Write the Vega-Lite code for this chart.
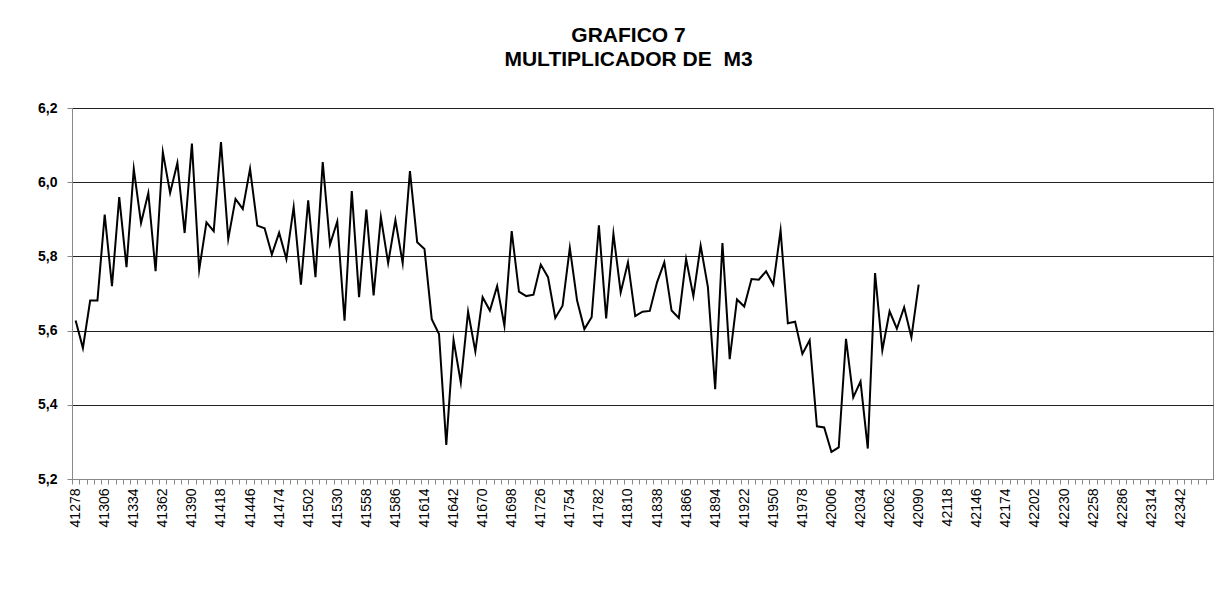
{
  "$schema": "https://vega.github.io/schema/vega-lite/v6.json",
  "width": 1141,
  "height": 371,
  "autosize": {"type": "none"},
  "padding": {"left": 72, "top": 108, "right": 3, "bottom": 127},
  "background": "white",
  "title": {
    "text": ["GRAFICO 7", "MULTIPLICADOR DE\u00a0 M3"],
    "font": "Liberation Sans",
    "fontSize": 21,
    "fontWeight": "bold",
    "color": "black",
    "anchor": "middle",
    "frame": "group",
    "dx": -14,
    "offset": 31,
    "lineHeight": 24
  },
  "config": {
    "view": {"stroke": "#888888", "strokeWidth": 1},
    "axis": {"labelFont": "Liberation Sans", "labelColor": "black", "domainColor": "#888888", "tickColor": "#888888"}
  },
  "data": {
    "values": [
      {"fecha": 41278, "valor": 5.627}, {"fecha": 41285, "valor": 5.553}, {"fecha": 41292, "valor": 5.681}, {"fecha": 41299, "valor": 5.681},
      {"fecha": 41306, "valor": 5.913}, {"fecha": 41313, "valor": 5.720}, {"fecha": 41320, "valor": 5.960}, {"fecha": 41327, "valor": 5.771},
      {"fecha": 41334, "valor": 6.036}, {"fecha": 41341, "valor": 5.890}, {"fecha": 41348, "valor": 5.971}, {"fecha": 41355, "valor": 5.760},
      {"fecha": 41362, "valor": 6.081}, {"fecha": 41369, "valor": 5.971}, {"fecha": 41376, "valor": 6.052}, {"fecha": 41383, "valor": 5.863},
      {"fecha": 41390, "valor": 6.104}, {"fecha": 41397, "valor": 5.764}, {"fecha": 41404, "valor": 5.892}, {"fecha": 41411, "valor": 5.868},
      {"fecha": 41418, "valor": 6.108}, {"fecha": 41425, "valor": 5.847}, {"fecha": 41432, "valor": 5.955}, {"fecha": 41439, "valor": 5.928},
      {"fecha": 41446, "valor": 6.036}, {"fecha": 41453, "valor": 5.883}, {"fecha": 41460, "valor": 5.876}, {"fecha": 41467, "valor": 5.805},
      {"fecha": 41474, "valor": 5.864}, {"fecha": 41481, "valor": 5.793}, {"fecha": 41488, "valor": 5.933}, {"fecha": 41495, "valor": 5.724},
      {"fecha": 41502, "valor": 5.951}, {"fecha": 41509, "valor": 5.744}, {"fecha": 41516, "valor": 6.054}, {"fecha": 41523, "valor": 5.832},
      {"fecha": 41530, "valor": 5.894}, {"fecha": 41537, "valor": 5.627}, {"fecha": 41544, "valor": 5.976}, {"fecha": 41551, "valor": 5.690},
      {"fecha": 41558, "valor": 5.926}, {"fecha": 41565, "valor": 5.695}, {"fecha": 41572, "valor": 5.906}, {"fecha": 41579, "valor": 5.782},
      {"fecha": 41586, "valor": 5.898}, {"fecha": 41593, "valor": 5.782}, {"fecha": 41600, "valor": 6.030}, {"fecha": 41607, "valor": 5.838},
      {"fecha": 41614, "valor": 5.820}, {"fecha": 41621, "valor": 5.631}, {"fecha": 41628, "valor": 5.591}, {"fecha": 41635, "valor": 5.292},
      {"fecha": 41642, "valor": 5.575}, {"fecha": 41649, "valor": 5.460}, {"fecha": 41656, "valor": 5.651}, {"fecha": 41663, "valor": 5.544},
      {"fecha": 41670, "valor": 5.690}, {"fecha": 41677, "valor": 5.654}, {"fecha": 41684, "valor": 5.720}, {"fecha": 41691, "valor": 5.613},
      {"fecha": 41698, "valor": 5.868}, {"fecha": 41705, "valor": 5.705}, {"fecha": 41712, "valor": 5.693}, {"fecha": 41719, "valor": 5.697},
      {"fecha": 41726, "valor": 5.778}, {"fecha": 41733, "valor": 5.744}, {"fecha": 41740, "valor": 5.634}, {"fecha": 41747, "valor": 5.667},
      {"fecha": 41754, "valor": 5.823}, {"fecha": 41761, "valor": 5.681}, {"fecha": 41768, "valor": 5.604}, {"fecha": 41775, "valor": 5.636},
      {"fecha": 41782, "valor": 5.884}, {"fecha": 41789, "valor": 5.633}, {"fecha": 41796, "valor": 5.861}, {"fecha": 41803, "valor": 5.703},
      {"fecha": 41810, "valor": 5.784}, {"fecha": 41817, "valor": 5.639}, {"fecha": 41824, "valor": 5.651}, {"fecha": 41831, "valor": 5.653},
      {"fecha": 41838, "valor": 5.730}, {"fecha": 41845, "valor": 5.784}, {"fecha": 41852, "valor": 5.654}, {"fecha": 41859, "valor": 5.634},
      {"fecha": 41866, "valor": 5.793}, {"fecha": 41873, "valor": 5.693}, {"fecha": 41880, "valor": 5.829}, {"fecha": 41887, "valor": 5.717},
      {"fecha": 41894, "valor": 5.442}, {"fecha": 41901, "valor": 5.836}, {"fecha": 41908, "valor": 5.523}, {"fecha": 41915, "valor": 5.684},
      {"fecha": 41922, "valor": 5.665}, {"fecha": 41929, "valor": 5.739}, {"fecha": 41936, "valor": 5.737}, {"fecha": 41943, "valor": 5.760},
      {"fecha": 41950, "valor": 5.724}, {"fecha": 41957, "valor": 5.870}, {"fecha": 41964, "valor": 5.620}, {"fecha": 41971, "valor": 5.624},
      {"fecha": 41978, "valor": 5.537}, {"fecha": 41985, "valor": 5.574}, {"fecha": 41992, "valor": 5.342}, {"fecha": 41999, "valor": 5.339},
      {"fecha": 42006, "valor": 5.273}, {"fecha": 42013, "valor": 5.285}, {"fecha": 42020, "valor": 5.578}, {"fecha": 42027, "valor": 5.420},
      {"fecha": 42034, "valor": 5.463}, {"fecha": 42041, "valor": 5.282}, {"fecha": 42048, "valor": 5.755}, {"fecha": 42055, "valor": 5.547},
      {"fecha": 42062, "valor": 5.652}, {"fecha": 42069, "valor": 5.605}, {"fecha": 42076, "valor": 5.663}, {"fecha": 42083, "valor": 5.582},
      {"fecha": 42090, "valor": 5.724}
    ]
  },
  "mark": {"type": "line", "color": "black", "strokeWidth": 2, "strokeJoin": "miter", "strokeMiterLimit": 10},
  "encoding": {
    "x": {
      "field": "fecha",
      "type": "quantitative",
      "scale": {"domain": [41274.5, 42373.5], "nice": false, "zero": false},
      "axis": {
        "title": null,
        "grid": false,
        "values": [41278, 41285, 41292, 41299, 41306, 41313, 41320, 41327, 41334, 41341, 41348, 41355, 41362, 41369, 41376, 41383, 41390, 41397, 41404, 41411, 41418, 41425, 41432, 41439, 41446, 41453, 41460, 41467, 41474, 41481, 41488, 41495, 41502, 41509, 41516, 41523, 41530, 41537, 41544, 41551, 41558, 41565, 41572, 41579, 41586, 41593, 41600, 41607, 41614, 41621, 41628, 41635, 41642, 41649, 41656, 41663, 41670, 41677, 41684, 41691, 41698, 41705, 41712, 41719, 41726, 41733, 41740, 41747, 41754, 41761, 41768, 41775, 41782, 41789, 41796, 41803, 41810, 41817, 41824, 41831, 41838, 41845, 41852, 41859, 41866, 41873, 41880, 41887, 41894, 41901, 41908, 41915, 41922, 41929, 41936, 41943, 41950, 41957, 41964, 41971, 41978, 41985, 41992, 41999, 42006, 42013, 42020, 42027, 42034, 42041, 42048, 42055, 42062, 42069, 42076, 42083, 42090, 42097, 42104, 42111, 42118, 42125, 42132, 42139, 42146, 42153, 42160, 42167, 42174, 42181, 42188, 42195, 42202, 42209, 42216, 42223, 42230, 42237, 42244, 42251, 42258, 42265, 42272, 42279, 42286, 42293, 42300, 42307, 42314, 42321, 42328, 42335, 42342, 42349, 42356, 42363, 42370],
        "labelExpr": "(datum.value - 41278) % 28 == 0 && datum.value < 42360 ? format(datum.value, 'd') : ''",
        "labelAngle": -90,
        "labelAlign": "right",
        "labelBaseline": "middle",
        "labelFontSize": 14,
        "labelOverlap": false,
        "labelFlush": false,
        "tickSize": 5,
        "tickOffset": -3.63,
        "labelOffset": 3.63,
        "labelPadding": 4,
        "domainColor": "#888888"
      }
    },
    "y": {
      "field": "valor",
      "type": "quantitative",
      "scale": {"domain": [5.2, 6.2], "nice": false, "zero": false},
      "axis": {
        "title": null,
        "values": [5.2, 5.4, 5.6, 5.8, 6.0, 6.2],
        "labelExpr": "replace(format(datum.value, '.1f'), '.', ',')",
        "labelFontSize": 14,
        "labelFontWeight": "bold",
        "labelPadding": 10,
        "tickSize": 5,
        "grid": true,
        "gridColor": "#222222",
        "gridWidth": 1,
        "gridOpacity": 1
      }
    }
  }
}
